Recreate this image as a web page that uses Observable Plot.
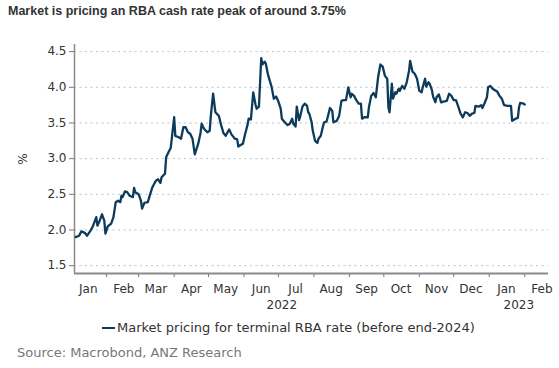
<!DOCTYPE html>
<html><head><meta charset="utf-8">
<script src="https://cdn.jsdelivr.net/npm/d3@7"></script>
<script src="https://cdn.jsdelivr.net/npm/@observablehq/plot@0.6"></script>
<style>
body{margin:0;background:#fff;width:559px;height:368px;position:relative;overflow:hidden;font-family:"DejaVu Sans",Verdana,sans-serif;}
#chart{position:absolute;left:0;top:0;}
#title{position:absolute;left:8px;top:4px;font:bold 12.5px "Liberation Sans",Arial,sans-serif;color:#333;white-space:nowrap;}
#legend{position:absolute;left:102px;top:320px;font-size:13px;color:#333;display:flex;align-items:center;white-space:nowrap;}
#legend .sw{display:inline-block;width:13px;height:2px;background:#0c3b5b;margin-right:2px;}
#source{position:absolute;left:17px;top:345px;font-size:13px;color:#777;white-space:nowrap;}
</style></head><body>
<div id="chart"></div>
<div id="title"></div>
<div id="legend"><span class="sw"></span><span id="legtext"></span></div>
<div id="source"></div>
<script>
const titleText = "Market is pricing an RBA cash rate peak of around 3.75%";
const seriesName = "Market pricing for terminal RBA rate (before end-2024)";
const sourceText = "Source: Macrobond, ANZ Research";
const yTicks = [1.5, 2.0, 2.5, 3.0, 3.5, 4.0, 4.5];
const yLabel = "%";

const dates = [
"2022-01-05","2022-01-08","2022-01-10","2022-01-13","2022-01-15","2022-01-18","2022-01-20","2022-01-23","2022-01-24","2022-01-26",
"2022-01-28","2022-01-30","2022-01-31","2022-02-02","2022-02-05","2022-02-07","2022-02-09","2022-02-11","2022-02-13","2022-02-14",
"2022-02-15","2022-02-17","2022-02-19","2022-02-21","2022-02-24","2022-02-25","2022-02-26","2022-03-01","2022-03-03","2022-03-04",
"2022-03-06","2022-03-09","2022-03-11","2022-03-13","2022-03-16","2022-03-18","2022-03-20","2022-03-21","2022-03-24","2022-03-25",
"2022-03-27","2022-03-29","2022-04-01","2022-04-02","2022-04-05","2022-04-07","2022-04-09","2022-04-11","2022-04-13","2022-04-15",
"2022-04-17","2022-04-19","2022-04-22","2022-04-24","2022-04-25","2022-04-27","2022-04-30","2022-05-02","2022-05-03","2022-05-05",
"2022-05-07","2022-05-10","2022-05-12","2022-05-14","2022-05-16","2022-05-18","2022-05-19","2022-05-21","2022-05-24","2022-05-26",
"2022-05-27","2022-05-29","2022-05-31","2022-06-02","2022-06-04","2022-06-05","2022-06-07","2022-06-09","2022-06-11","2022-06-12",
"2022-06-14","2022-06-16","2022-06-17","2022-06-19","2022-06-20","2022-06-22","2022-06-25","2022-06-27","2022-06-29","2022-07-01",
"2022-07-03","2022-07-04","2022-07-06","2022-07-09","2022-07-11","2022-07-13","2022-07-14","2022-07-16","2022-07-17","2022-07-19",
"2022-07-20","2022-07-22","2022-07-24","2022-07-26","2022-07-27","2022-07-28","2022-07-30","2022-07-31","2022-08-02","2022-08-04",
"2022-08-05","2022-08-07","2022-08-09","2022-08-10","2022-08-12","2022-08-13","2022-08-15","2022-08-17","2022-08-18","2022-08-21",
"2022-08-23","2022-08-25","2022-08-27","2022-08-29","2022-08-30","2022-08-31","2022-09-02","2022-09-03","2022-09-05","2022-09-07",
"2022-09-09","2022-09-11","2022-09-12","2022-09-14","2022-09-17","2022-09-18","2022-09-20","2022-09-22","2022-09-24","2022-09-26",
"2022-09-28","2022-09-30","2022-10-02","2022-10-04","2022-10-05","2022-10-06","2022-10-08","2022-10-09","2022-10-11","2022-10-12",
"2022-10-14","2022-10-15","2022-10-17","2022-10-19","2022-10-21","2022-10-23","2022-10-24","2022-10-26","2022-10-28","2022-10-30",
"2022-11-01","2022-11-03","2022-11-04","2022-11-06","2022-11-07","2022-11-09","2022-11-10","2022-11-12","2022-11-13","2022-11-15",
"2022-11-16","2022-11-18","2022-11-20","2022-11-22","2022-11-25","2022-11-27","2022-11-29","2022-12-01","2022-12-03","2022-12-05",
"2022-12-07","2022-12-09","2022-12-11","2022-12-13","2022-12-15","2022-12-17","2022-12-19","2022-12-20","2022-12-23","2022-12-25",
"2022-12-26","2022-12-28","2022-12-30","2022-12-31","2023-01-02","2023-01-04","2023-01-06","2023-01-08","2023-01-10","2023-01-12",
"2023-01-14","2023-01-17","2023-01-20","2023-01-21","2023-01-24","2023-01-26","2023-01-27","2023-01-28","2023-01-31","2023-02-01"
];
const rate = [
1.90,1.92,1.98,1.96,1.92,1.99,2.05,2.18,2.06,2.13,
2.22,2.13,1.95,2.05,2.09,2.18,2.39,2.41,2.39,2.48,
2.46,2.54,2.53,2.48,2.46,2.59,2.53,2.50,2.41,2.30,
2.38,2.39,2.50,2.60,2.69,2.71,2.66,2.74,2.79,3.02,
3.09,3.15,3.58,3.32,3.30,3.28,3.44,3.44,3.37,3.35,
3.28,3.06,3.21,3.36,3.49,3.42,3.37,3.39,3.60,3.91,
3.65,3.60,3.47,3.36,3.32,3.38,3.41,3.34,3.28,3.27,
3.17,3.19,3.21,3.35,3.47,3.56,3.55,3.93,3.76,3.70,
3.73,4.41,4.32,4.36,4.33,4.17,4.01,3.84,3.87,3.80,
3.70,3.56,3.52,3.47,3.49,3.56,3.49,3.45,3.73,3.54,
3.59,3.73,3.77,3.74,3.65,3.63,3.51,3.39,3.25,3.22,
3.28,3.32,3.46,3.51,3.52,3.58,3.71,3.67,3.51,3.53,
3.60,3.81,3.82,3.82,3.91,4.00,3.86,3.91,3.88,3.82,
3.77,3.77,3.56,3.58,3.58,3.72,3.88,3.92,3.86,4.14,
4.32,4.29,4.16,4.12,3.72,3.65,4.05,3.84,3.93,3.91,
3.98,3.95,4.02,3.98,4.07,4.23,4.37,4.22,4.19,4.12,
3.95,3.93,4.00,4.12,4.01,4.07,4.05,3.96,3.87,3.79,
3.86,3.90,3.79,3.80,3.81,3.91,3.88,3.82,3.82,3.73,
3.63,3.58,3.65,3.64,3.60,3.63,3.64,3.74,3.73,3.75,
3.71,3.78,3.86,4.00,4.02,3.98,3.96,3.94,3.88,3.84,
3.75,3.74,3.74,3.53,3.56,3.57,3.72,3.78,3.77,3.76
];

const data = dates.map((d, i) => ({date: new Date(d + "T00:00:00Z"), value: rate[i]}));

const x0 = new Date("2022-01-04T00:00:00Z");
const x1 = new Date("2023-02-21T18:00:00Z");
const yMin = 1.39, yMax = 4.6;
const monthStarts = d3.utcMonth.range(d3.utcMonth.ceil(x0), x1);
const monthMids = d3.utcMonth.range(d3.utcMonth.floor(x0), x1).map(d => d3.utcDay.offset(d, 15));
const yearEdge = new Date("2023-01-01T00:00:00Z");
const yearMids = [new Date((+x0 + +yearEdge) / 2), new Date((+yearEdge + +x1) / 2)];

const lineColor = "#0c3b5b";

const chart = Plot.plot({
  width: 559, height: 312,
  marginLeft: 74, marginRight: 11, marginTop: 44, marginBottom: 39,
  style: {fontFamily: '"DejaVu Sans",Verdana,sans-serif', fontSize: "12px", color: "#333", background: "white", overflow: "visible"},
  x: {type: "utc", domain: [x0, x1]},
  y: {domain: [yMin, yMax]},
  marks: [
    Plot.ruleY(yTicks, {stroke: "#b5c6d3", strokeDasharray: "2,3.5", strokeWidth: 1}),
    Plot.axisY({ticks: yTicks, tickFormat: d3.format(".1f"), tickSize: 5, tickPadding: 3, label: null, stroke: "#777"}),
    Plot.axisX({ticks: monthStarts, tickSize: 4, tickFormat: () => "", label: null, stroke: "#777"}),
    Plot.axisX({ticks: monthMids, tickSize: 0, tickPadding: 11, tickFormat: d3.utcFormat("%b"), label: null}),
    Plot.axisX({ticks: yearMids, tickSize: 0, tickPadding: 27, tickFormat: d3.utcFormat("%Y"), label: null}),
    Plot.ruleX([x0], {stroke: "#8a8a8a", strokeWidth: 1.5}),
    Plot.ruleY([yMin], {stroke: "#8a8a8a", strokeWidth: 2}),
    Plot.lineY(data, {x: "date", y: "value", stroke: lineColor, strokeWidth: 2.3, strokeLinejoin: "round"}),
    Plot.text([yLabel], {frameAnchor: "left", dx: -51, rotate: -90, textAnchor: "middle", fill: "#333", fontSize: 12})
  ]
});
document.getElementById("chart").append(chart);
document.getElementById("title").textContent = titleText;
document.getElementById("legtext").textContent = seriesName;
document.getElementById("source").textContent = sourceText;
</script>
</body></html>
